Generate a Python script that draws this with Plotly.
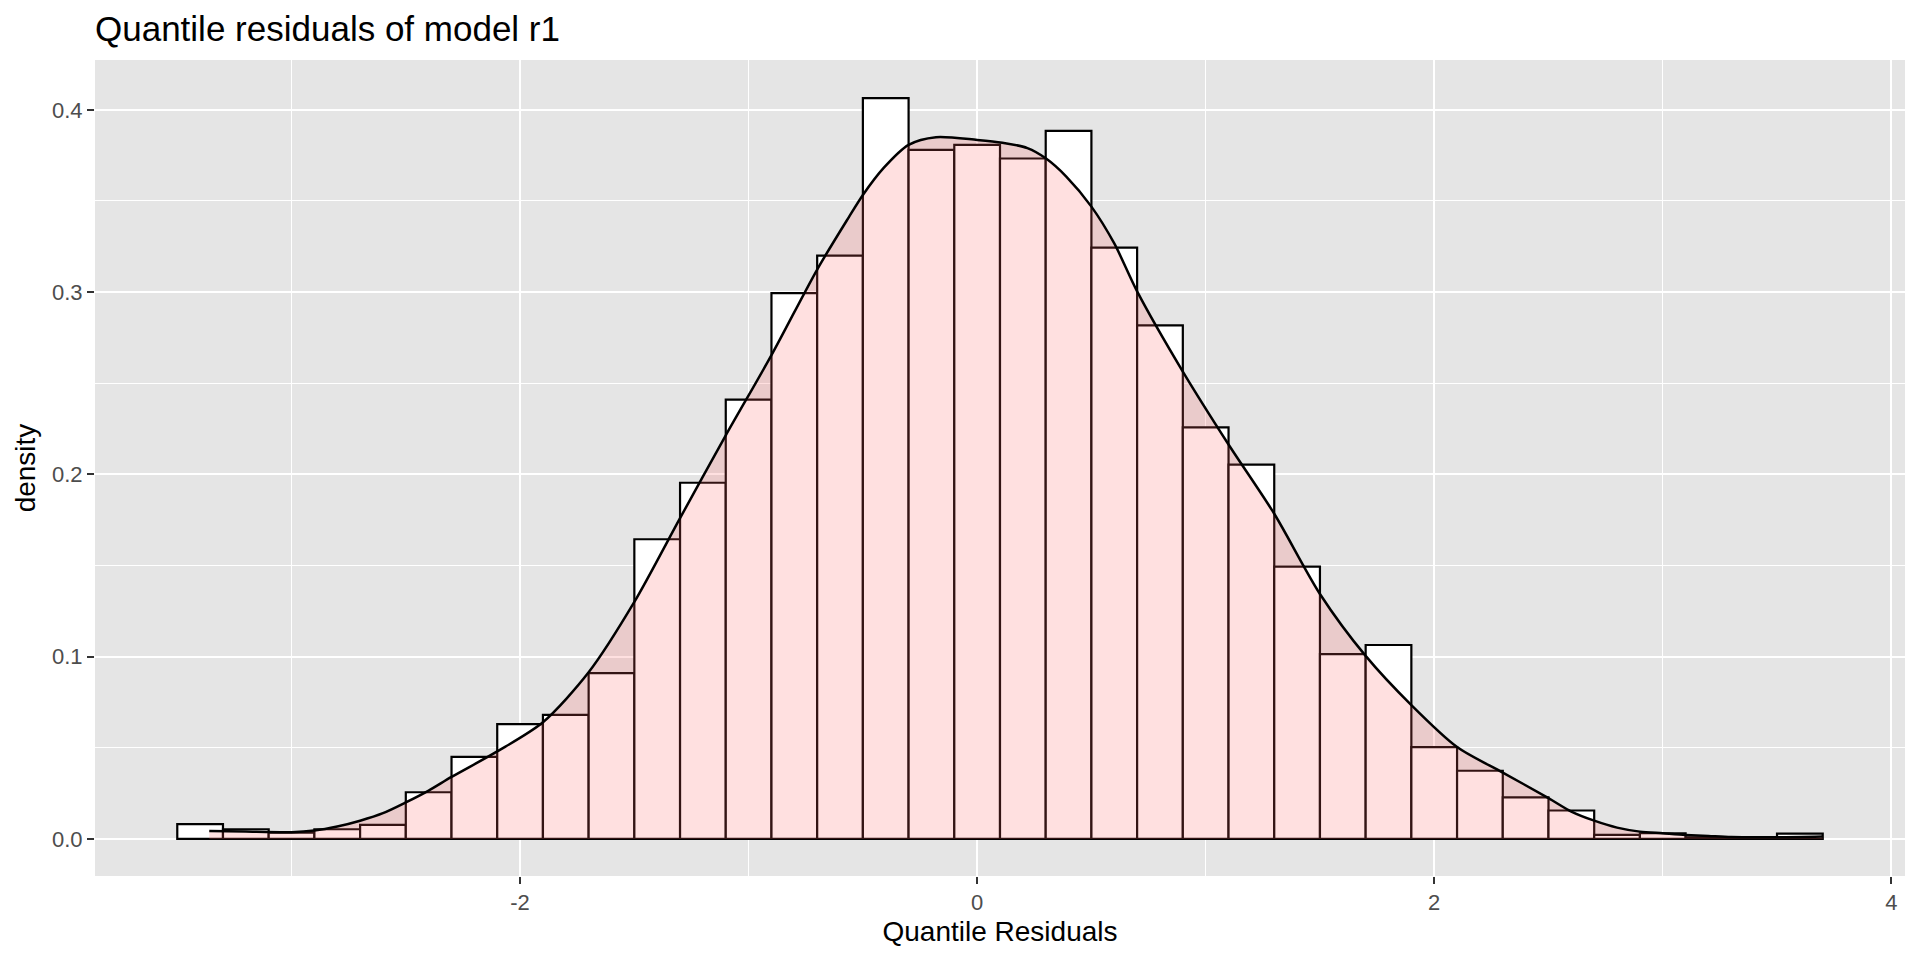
import plotly.graph_objects as go

# histogram bins (width 0.2)
bin_centers = [-3.4, -3.2, -3.0, -2.8, -2.6, -2.4, -2.2, -2.0, -1.8, -1.6,
               -1.4, -1.2, -1.0, -0.8, -0.6, -0.4, -0.2, 0.0, 0.2, 0.4,
               0.6, 0.8, 1.0, 1.2, 1.4, 1.6, 1.8, 2.0, 2.2, 2.4,
               2.6, 2.8, 3.0, 3.2, 3.4, 3.6]
bin_density = [0.0081, 0.0053, 0.0035, 0.0053, 0.0077, 0.0256, 0.0450, 0.0630, 0.0680, 0.0910,
               0.1644, 0.1954, 0.2410, 0.2994, 0.3200, 0.4064, 0.3780, 0.3808, 0.3733, 0.3885,
               0.3244, 0.2818, 0.2258, 0.2054, 0.1494, 0.1014, 0.1064, 0.0504, 0.0374, 0.0228,
               0.0156, 0.0022, 0.0031, 0.0009, 0.0, 0.0029]

# kernel density curve
dens_x = [-3.36, -3.2, -3.0, -2.9, -2.8, -2.7, -2.6, -2.5, -2.4, -2.3,
          -2.1, -1.9, -1.7, -1.5, -1.3, -1.1, -0.9, -0.7, -0.56, -0.5,
          -0.41, -0.3, -0.18, 0.0, 0.11, 0.22, 0.3, 0.39, 0.5, 0.6,
          0.7, 0.9, 1.1, 1.3, 1.5, 1.7, 1.9, 2.1, 2.3, 2.5,
          2.6, 2.7, 2.8, 2.9, 3.0, 3.1, 3.2, 3.3, 3.5, 3.7]
dens_y = [0.0044, 0.0040, 0.0037, 0.0046, 0.0068, 0.0100, 0.0141, 0.0200, 0.0265, 0.0340,
          0.0480, 0.0640, 0.0914, 0.1300, 0.1760, 0.2214, 0.2654, 0.3124, 0.3414, 0.3533,
          0.3680, 0.3808, 0.3850, 0.3835, 0.3820, 0.3790, 0.3734, 0.3634, 0.3469, 0.3267,
          0.3004, 0.2564, 0.2164, 0.1784, 0.1344, 0.1004, 0.0734, 0.0504, 0.0364, 0.0224,
          0.0150, 0.0100, 0.0062, 0.0040, 0.0031, 0.0022, 0.0016, 0.0010, 0.0009, 0.0013]

x_ticks = [-2, 0, 2, 4]
x_ticktext = ["-2", "0", "2", "4"]
y_ticks = [0.0, 0.1, 0.2, 0.3, 0.4]
y_ticktext = ["0.0", "0.1", "0.2", "0.3", "0.4"]

fig = go.Figure()

fig.add_trace(go.Bar(
    x=bin_centers, y=bin_density, width=0.2,
    marker=dict(color="white", line=dict(color="black", width=2.2)),
    hoverinfo="skip",
))

fig.add_trace(go.Scatter(
    x=dens_x, y=dens_y, mode="lines",
    line=dict(color="black", width=2.5, shape="spline", smoothing=0.8),
    fill="tozeroy", fillcolor="rgba(255,102,102,0.2)",
    hoverinfo="skip",
))

axis_common = dict(
    showgrid=True, gridcolor="white", gridwidth=2.2,
    zeroline=False, showline=False,
    ticks="outside", ticklen=7, tickwidth=1.8, tickcolor="#333333",
    tickfont=dict(family="Liberation Sans", size=22, color="#4D4D4D"),
    tickmode="array",
)

# page body has an 8px margin, so the figure is a bit smaller and margins shifted
fig.update_layout(
    width=1912, height=952,
    showlegend=False,
    paper_bgcolor="white",
    plot_bgcolor="#E5E5E5",
    margin=dict(l=87, r=15, t=52, b=84),
    font=dict(family="Liberation Sans", color="black"),
    title=dict(
        text="Quantile residuals of model r1",
        font=dict(family="Liberation Sans", size=35, color="black"),
        xref="paper", x=0, xanchor="left",
        yref="container", y=1 - 21 / 952, yanchor="middle",
    ),
    xaxis=dict(
        axis_common,
        range=[-3.86, 4.06],
        tickvals=x_ticks, ticktext=x_ticktext,
        minor=dict(tickvals=[-3, -1, 1, 3], showgrid=True,
                   gridcolor="white", gridwidth=1.1, ticks=""),
        title=dict(text="Quantile Residuals",
                   font=dict(family="Liberation Sans", size=28, color="black"),
                   standoff=6),
    ),
    yaxis=dict(
        axis_common,
        range=[-0.02035, 0.42735],
        tickvals=y_ticks, ticktext=y_ticktext,
        minor=dict(tickvals=[0.05, 0.15, 0.25, 0.35], showgrid=True,
                   gridcolor="white", gridwidth=1.1, ticks=""),
        title=dict(text="density",
                   font=dict(family="Liberation Sans", size=28, color="black"),
                   standoff=8),
    ),
)

fig.write_html("out.html", config={"displayModeBar": False})
